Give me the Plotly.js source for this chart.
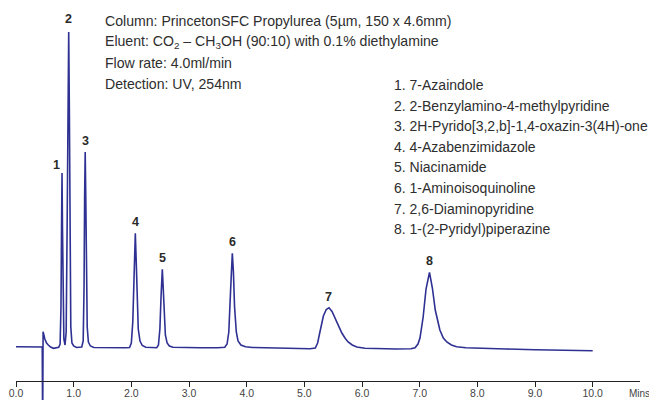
<!DOCTYPE html>
<html>
<head>
<meta charset="utf-8">
<script src="https://cdn.plot.ly/plotly-3.0.1.min.js"></script>
<style>html,body{margin:0;padding:0;background:#fff;}#chart{width:649px;height:400px;}</style>
</head>
<body>
<div id="chart"></div>
<script>
// Retention time (min) and detector signal (arbitrary units, baseline ~0)
var time = [0.00, 0.30, 0.44, 0.455, 0.462, 0.47, 0.50, 0.53, 0.56, 0.60, 0.65, 0.70, 0.74, 0.765, 0.78, 0.79, 0.798, 0.806, 0.815, 0.83, 0.85, 0.87, 0.885, 0.90, 0.914, 0.925, 0.935, 0.95, 0.97, 1.00, 1.05, 1.10, 1.14, 1.165, 1.18, 1.19, 1.20, 1.21, 1.22, 1.235, 1.255, 1.29, 1.35, 1.50, 1.70, 1.90, 1.97, 2.00, 2.025, 2.045, 2.069, 2.085, 2.10, 2.12, 2.15, 2.19, 2.25, 2.35, 2.44, 2.47, 2.495, 2.515, 2.537, 2.552, 2.568, 2.59, 2.62, 2.66, 2.72, 2.9, 3.2, 3.5, 3.62, 3.66, 3.69, 3.72, 3.751, 3.77, 3.79, 3.82, 3.85, 3.90, 3.98, 4.10, 4.4, 4.8, 5.1, 5.19, 5.23, 5.27, 5.33, 5.38, 5.427, 5.48, 5.53, 5.59, 5.65, 5.71, 5.76, 5.83, 5.91, 6.05, 6.3, 6.6, 6.85, 6.92, 6.97, 7.005, 7.06, 7.11, 7.17, 7.22, 7.27, 7.35, 7.41, 7.47, 7.55, 7.64, 7.80, 8.0, 8.5, 9.0, 9.5, 10.0];
var signal = [0.3, 0.3, 0.3, 0, -80, 15.3, 8, 4, 2, 0, -1.3, -0.8, -0.3, 3, 40, 120, 174, 120, 40, 8, 2, 15, 110, 260, 315, 240, 100, 20, 4, 1, -0.5, -0.5, 0, 6, 60, 150, 195, 150, 70, 20, 5, 1, -0.5, -0.7, -0.7, -0.7, -0.5, 4, 25, 75, 113.7, 85, 45, 18, 6, 1.5, -0.3, -0.7, -0.7, 2, 18, 50, 77.7, 60, 30, 12, 4, 1, -0.3, -0.7, -0.7, -0.7, -0.3, 3, 15, 55, 93.7, 75, 40, 15, 6, 2, 0.3, -0.5, -1, -1.3, -1.7, -1, 4, 15, 31, 37.5, 39.3, 35.5, 29, 21, 14, 8.5, 5, 2, 0, -1.3, -1.8, -2, -1.8, -0.8, 3, 9, 30, 58, 74.7, 59, 37, 17, 9, 5, 2, 0.3, -0.8, -1.3, -2, -2.7, -3.2, -3.7];

// Peak apexes and labels
var peakLabels = ["1", "2", "3", "4", "5", "6", "7", "8"];
var peakTimes = [0.798, 0.914, 1.20, 2.069, 2.537, 3.751, 5.427, 7.17];
var peakHeights = [174, 315, 195, 113.7, 77.7, 93.7, 39.3, 74.7];

// Tick labels
var tickValues = [0, 1, 2, 3, 4, 5, 6, 7, 8, 9, 10];
var tickLabels = ["0.0", "1.0", "2.0", "3.0", "4.0", "5.0", "6.0", "7.0", "8.0", "9.0", "10.0"];
var axisUnit = "Mins";

// Conditions text
var conditions = [
  "Column: PrincetonSFC Propylurea (5µm, 150 x 4.6mm)",
  "Eluent: CO<sub>2</sub> – CH<sub>3</sub>OH (90:10) with 0.1% diethylamine",
  "Flow rate: 4.0ml/min",
  "Detection: UV, 254nm"
];
// Compound list
var compounds = [
  "1. 7-Azaindole",
  "2. 2-Benzylamino-4-methylpyridine",
  "3. 2H-Pyrido[3,2,b]-1,4-oxazin-3(4H)-one",
  "4. 4-Azabenzimidazole",
  "5. Niacinamide",
  "6. 1-Aminoisoquinoline",
  "7. 2,6-Diaminopyridine",
  "8. 1-(2-Pyridyl)piperazine"
];

var W = 649, H = 400;
var mL = 16, mR = 9;
function px(x) { return (x - mL) / (W - mL - mR); }
function py(y) { return (H - y) / H; }

var FONT = "Liberation Sans, Arial, sans-serif";
var annotations = [];

peakLabels.forEach(function (lab, i) {
  annotations.push({
    x: peakTimes[i], y: peakHeights[i], xref: "x", yref: "y",
    text: "<b>" + lab + "</b>", showarrow: false,
    xanchor: "center", yanchor: "middle",
    yshift: lab === "2" ? 13 : (lab === "1" ? 8 : 11),
    xshift: lab === "1" ? -6 : 0,
    font: { family: FONT, size: 12.5, color: "#2a2a2a" }
  });
});

var condY = [20.5, 42, 63.5, 84];
conditions.forEach(function (t, i) {
  annotations.push({
    x: px(103), y: py(condY[i]), xref: "paper", yref: "paper",
    text: t, showarrow: false, xanchor: "left", yanchor: "middle",
    font: { family: FONT, size: 14.1, color: "#2e2e2e" }
  });
});

compounds.forEach(function (t, i) {
  annotations.push({
    x: px(392), y: py(85 + i * 20.6), xref: "paper", yref: "paper",
    text: t, showarrow: false, xanchor: "left", yanchor: "middle",
    font: { family: FONT, size: 14, color: "#2e2e2e" }
  });
});

annotations.push({
  x: px(627), y: py(393), xref: "paper", yref: "paper",
  text: axisUnit, showarrow: false, xanchor: "left", yanchor: "middle",
  font: { family: FONT, size: 10, color: "#444" }
});

var trace = {
  x: time, y: signal, type: "scatter", mode: "lines",
  line: { color: "#2e3192", width: 1.6 },
  hoverinfo: "skip"
};

var layout = {
  width: W, height: H,
  margin: { l: mL, r: mR, t: 0, b: 0, pad: 0, autoexpand: false },
  paper_bgcolor: "#fff", plot_bgcolor: "rgba(0,0,0,0)",
  showlegend: false,
  xaxis: {
    range: [0, (W - mL - mR) / 57.67],
    anchor: "free", position: py(381),
    tickmode: "array", tickvals: tickValues, ticktext: tickLabels,
    ticks: "outside", ticklen: 5, tickwidth: 1, tickcolor: "#222",
    ticklabelstandoff: -3,
    showline: true, linecolor: "#222", linewidth: 1.3,
    showgrid: false, zeroline: false, automargin: false,
    tickfont: { family: FONT, size: 10.5, color: "#444" },
    fixedrange: true
  },
  yaxis: {
    range: [-53, 347], visible: false, showgrid: false, zeroline: false,
    automargin: false, fixedrange: true
  },
  annotations: annotations
};

Plotly.newPlot("chart", [trace], layout, { staticPlot: true, displayModeBar: false });
</script>
</body>
</html>
